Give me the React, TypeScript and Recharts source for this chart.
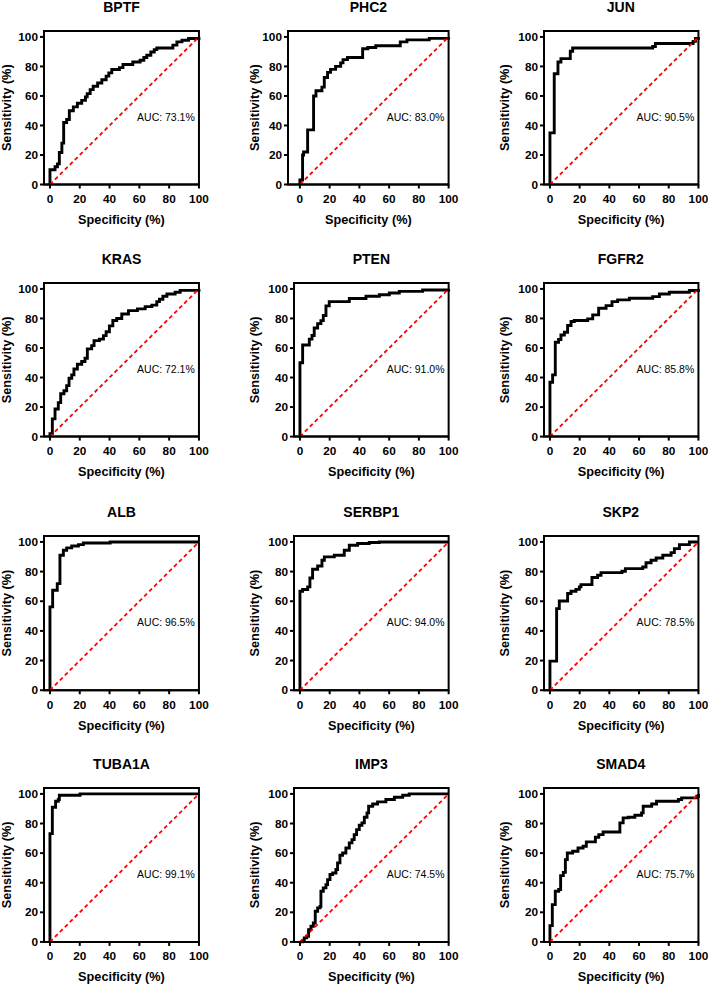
import React from 'react';
import { LineChart, Line, XAxis, YAxis, ReferenceLine, ReferenceArea, ReferenceDot } from 'recharts';

// gene panels, left to right, top to bottom
const GENES = ['BPTF', 'PHC2', 'JUN', 'KRAS', 'PTEN', 'FGFR2', 'ALB', 'SERBP1', 'SKP2', 'TUBA1A', 'IMP3', 'SMAD4'];
const AUC_LABELS = [
  'AUC: 73.1%', 'AUC: 83.0%', 'AUC: 90.5%',
  'AUC: 72.1%', 'AUC: 91.0%', 'AUC: 85.8%',
  'AUC: 96.5%', 'AUC: 94.0%', 'AUC: 78.5%',
  'AUC: 99.1%', 'AUC: 74.5%', 'AUC: 75.7%',
];

// ROC steps: [x where the curve jumps, new sensitivity]
const BPTF_ROC = [[0, 0], [0, 10], [3.4, 12], [5, 14], [6.3, 21.7], [8, 28], [9.2, 42], [11.2, 44], [13, 50], [15.7, 52.6], [18.4, 55], [21.3, 57], [23.8, 59.4], [25, 61.6], [27, 64.3], [29, 66.6], [32, 68.8], [34.8, 71], [37.7, 73.4], [39.5, 75.6], [41.5, 77.9], [46.6, 79.2], [49, 81.3], [55.6, 83], [60.5, 84.2], [63, 86], [65, 87.6], [67.7, 89.8], [70, 91.4], [71.7, 92.5], [82.5, 94.4], [85.2, 96.6], [88.6, 97.7], [93, 98.9], [100, 100]];
const PHC2_ROC = [[0, 0], [0, 3], [1.8, 20], [2.5, 22], [5.2, 37], [9.2, 60], [10.8, 63.5], [14.8, 66], [16.4, 72.5], [18.6, 76], [20.6, 78], [24, 80], [27.4, 82.4], [29, 84.6], [32, 86], [42.2, 92], [45.7, 92.8], [51, 94], [67.5, 96.6], [72, 98], [87, 99], [100, 100]];
const JUN_ROC = [[0, 0], [0, 35], [2.9, 75], [5.4, 83], [7.4, 85.3], [13.7, 90.3], [15.3, 92.5], [69.2, 93.5], [71, 95.5], [96.4, 97], [98, 99], [100, 100]];
const KRAS_ROC = [[0, 0], [0, 2], [1.6, 12], [3.4, 18.7], [5.6, 23], [7.2, 29], [9.4, 31], [11.2, 34.5], [12.8, 39.5], [14.6, 41.8], [16.1, 45.8], [18.4, 49], [21.3, 50.8], [23.5, 53], [25.1, 59.4], [28, 61.6], [29.6, 65], [33.2, 66], [35.9, 68.4], [37.7, 71], [39.9, 75], [42.2, 78.6], [44.8, 80], [48.2, 83], [52.7, 85.3], [58.7, 86.5], [63.9, 88], [68.4, 89], [71.7, 91.4], [73.5, 93], [75.8, 95], [78.5, 96.6], [84, 97.7], [87.4, 99], [100, 100]];
const PTEN_ROC = [[0, 0], [0, 50], [1.8, 62], [6.3, 66], [8.1, 68.5], [9.6, 73.5], [11.9, 76.5], [14.1, 78.5], [15.7, 82], [17.5, 88.5], [19.7, 91.4], [33.2, 93.5], [44.4, 95], [53.4, 96], [60.1, 97.2], [66.8, 98.3], [82.5, 99.3], [100, 100]];
const FGFR2_ROC = [[0, 0], [0, 36.8], [1.8, 41.8], [3.6, 63.9], [5.8, 65.7], [7.4, 68.8], [9.7, 70.7], [11.9, 75.2], [14.2, 77.9], [16.4, 78.6], [25.4, 79.7], [28.8, 82.4], [32.8, 86.9], [37.8, 88.7], [41.8, 91.4], [45.6, 92.6], [53.5, 93.7], [69.2, 94.8], [73.7, 96.6], [80.4, 97.7], [93.9, 98.9], [100, 100]];
const ALB_ROC = [[0, 0], [0, 56.2], [1.8, 67.4], [4.9, 71.9], [6.7, 91], [9, 94.4], [11.2, 96], [14.6, 97.3], [19.1, 98.2], [22.4, 99.3], [40.4, 100], [100, 100]];
const SERBP1_ROC = [[0, 0], [0, 66.7], [1.8, 67.9], [5.2, 69.7], [6.7, 75.7], [8.5, 81.6], [11.9, 83.8], [14.8, 87.6], [16.4, 89.9], [23.1, 91], [29.8, 94.4], [33.2, 97.8], [38.8, 98.9], [46.6, 99.6], [53.4, 100], [100, 100]];
const SKP2_ROC = [[0, 0], [0, 19.6], [4.5, 55], [6.3, 60.2], [11.9, 65.2], [14.2, 66.7], [17.5, 68], [19.8, 69.7], [20.9, 71.2], [28.3, 76], [32.1, 77.5], [34.4, 79.3], [48.5, 80.2], [50.8, 82], [62.5, 83.1], [64.7, 86], [68.1, 87.6], [71.5, 89.2], [76, 91], [81.6, 92.8], [83.8, 95.5], [87.2, 98.2], [93.9, 100], [100, 100]];
const TUBA1A_ROC = [[0, 0], [0, 73.2], [1.6, 91], [3.8, 95], [5.6, 96.2], [6.3, 99.1], [20.2, 100], [100, 100]];
const IMP3_ROC = [[0, 0], [1.8, 1], [2.9, 2.7], [4.5, 3.8], [5.8, 8.3], [7.4, 10.6], [9, 12.8], [10.3, 20.7], [11.9, 23], [13.5, 24], [14.1, 34.2], [15.7, 36.5], [17.5, 38.7], [18.6, 42.1], [20.2, 45.5], [22, 46.6], [24.2, 48.9], [25.3, 53.4], [26.9, 58.6], [28.7, 60.1], [30.9, 63.5], [33.2, 66.9], [35, 69.1], [36.5, 72.5], [38.1, 75.9], [39.9, 78.8], [41.7, 80.4], [43.3, 84.2], [45.1, 87.2], [46.2, 91.7], [48.9, 93.2], [52.2, 94.6], [57.8, 96.2], [63.5, 97.7], [69.1, 99.1], [73.5, 100], [100, 100]];
const SMAD4_ROC = [[0, 0], [0, 11], [1.6, 25.2], [3.6, 34.2], [5.9, 35.4], [7.2, 44.8], [9, 47], [10.4, 55.6], [11.7, 60.1], [15.3, 61.3], [18.9, 63.5], [22.3, 64.6], [24.5, 67.6], [30.6, 70.7], [32.9, 72.5], [35.8, 74.3], [47.1, 80.4], [49.3, 83.8], [52.7, 84.2], [57.2, 85.6], [61.7, 87.2], [62.8, 91.7], [68.5, 93.2], [71.8, 95], [86.5, 96.2], [88.7, 97.3], [98.9, 98.4], [100, 100]];

const CURVES = [BPTF_ROC, PHC2_ROC, JUN_ROC, KRAS_ROC, PTEN_ROC, FGFR2_ROC, ALB_ROC, SERBP1_ROC, SKP2_ROC, TUBA1A_ROC, IMP3_ROC, SMAD4_ROC];
const X_TICKS = [0, 20, 40, 60, 80, 100];
const Y_TICKS = [0, 20, 40, 60, 80, 100];

const FONT = "'Liberation Sans', Arial, Helvetica, sans-serif";

// pixel positions of x=0 / x=100 per column and y=0 / y=100 per row
const COL_X0 = [50, 300, 549.5];
const COL_X100 = [199, 448.7, 698];
const ROW_Y0 = [184.3, 437, 690.3, 942];
const ROW_Y100 = [36.7, 289.3, 542, 794];
const COL_YLABEL = [6.5, 254.7, 504.3];

const AXW = 48;
const AXH = 45;
const MT = 31;
const MR = 12;

type PanelProps = { index: number };

function RocPanel({ index }: PanelProps) {
  const row = Math.floor(index / 3);
  const col = index % 3;
  const xMin = GENES[index] === 'PHC2' ? -8 : -4;
  const x0 = COL_X0[col];
  const x100 = COL_X100[col];
  const sx = (x100 - x0) / 100;
  const y0 = ROW_Y0[row];
  const sy = (y0 - ROW_Y100[row]) / 100;
  const L = x0 + xMin * sx;
  const R = x100;
  const B = y0;
  const T = y0 - 104 * sy;
  const chartLeft = L - AXW;
  const chartTop = T - MT;
  const width = AXW + (R - L) + MR;
  const height = MT + (B - T) + AXH;

  const data = CURVES[index].map(([x, y]) => ({ x, y }));
  const tickStyle = { fill: '#000', fontSize: 11.8, fontWeight: 700, fontFamily: FONT };

  const xLabel = () => (
    <text x={(L + R) / 2 - chartLeft} y={B - chartTop + 39.5} textAnchor="middle"
      fill="#000" fontSize={12.7} fontWeight={700} fontFamily={FONT}>
      Specificity (%)
    </text>
  );
  const yCx = COL_YLABEL[col] - chartLeft;
  const yCy = (T + B) / 2 - chartTop;
  const yLabel = () => (
    <text x={yCx} y={yCy} dy="0.35em" transform={`rotate(-90, ${yCx}, ${yCy})`} textAnchor="middle"
      fill="#000" fontSize={12.7} fontWeight={700} fontFamily={FONT}>
      Sensitivity (%)
    </text>
  );

  return (
    <>
      <div
        style={{
          position: 'absolute', left: L, top: T - 31, width: R - L, textAlign: 'center',
          fontFamily: FONT, fontWeight: 700, fontSize: 14, lineHeight: '14px', color: '#000',
        }}
      >
        {GENES[index]}
      </div>
      <div style={{ position: 'absolute', left: chartLeft, top: chartTop }}>
        <LineChart width={width} height={height} data={data} margin={{ top: MT, right: MR, bottom: 0, left: 0 }}>
          <XAxis type="number" dataKey="x" domain={[xMin, 100]} ticks={X_TICKS} interval={0} height={AXH}
            tickSize={4} tickMargin={6} tick={tickStyle} stroke="#000" strokeWidth={2}
            tickLine={{ stroke: '#000', strokeWidth: 2 }} axisLine={{ stroke: '#000', strokeWidth: 2 }}
            label={xLabel} />
          <YAxis type="number" domain={[0, 104]} ticks={Y_TICKS} interval={0} width={AXW}
            tickSize={4} tickMargin={2} tick={tickStyle} stroke="#000" strokeWidth={2}
            tickLine={{ stroke: '#000', strokeWidth: 2 }} axisLine={{ stroke: '#000', strokeWidth: 2 }}
            label={yLabel} />
          <ReferenceArea x1={xMin} x2={100} y1={0} y2={104} fill="none" fillOpacity={0} stroke="#000" strokeWidth={2} />
          <Line type="stepAfter" dataKey="y" stroke="#000" strokeWidth={2.9} dot={false} activeDot={false}
            isAnimationActive={false} />
          <ReferenceLine segment={[{ x: 0, y: 0 }, { x: 100, y: 100 }]} stroke="#ff0000" strokeWidth={1.8}
            strokeDasharray="4 3" />
          <ReferenceDot x={97.2} y={45.5} r={0} fill="none" stroke="none"
            label={{ value: AUC_LABELS[index], position: 'left', offset: 0, fill: '#000', fontSize: 10.5, fontFamily: FONT }} />
        </LineChart>
      </div>
    </>
  );
}

export default function App() {
  return (
    <div style={{ position: 'absolute', left: 0, top: 0, width: 708, height: 984, background: '#fff' }}>
      {GENES.map((g, i) => (
        <RocPanel key={g} index={i} />
      ))}
    </div>
  );
}
